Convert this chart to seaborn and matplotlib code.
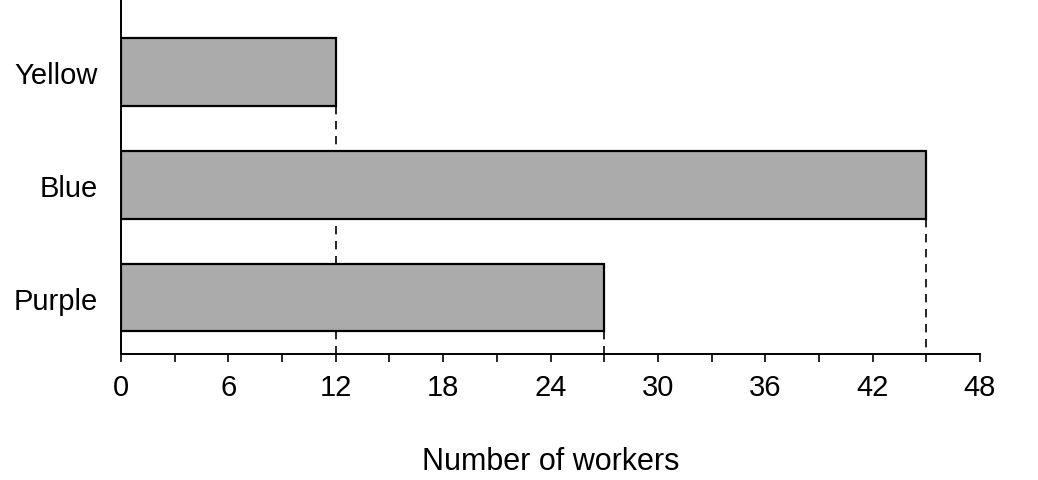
import matplotlib
matplotlib.use('Agg')
import matplotlib.pyplot as plt
import seaborn as sns
import pandas as pd

# data
colours = ['Yellow', 'Blue', 'Purple']
workers = [12, 45, 27]
x_ticks = list(range(0, 49, 3))
x_labels = [str(t) if t % 6 == 0 else '' for t in x_ticks]

df = pd.DataFrame({'colour': colours, 'workers': workers})

sns.set_style('white')
plt.rcParams['font.family'] = ['Liberation Sans', 'DejaVu Sans']
plt.rcParams['text.color'] = 'black'
plt.rcParams['xtick.color'] = 'black'
plt.rcParams['ytick.color'] = 'black'
plt.rcParams['axes.labelcolor'] = 'black'

fig = plt.figure(figsize=(10.38, 4.81), dpi=100)
ax = fig.add_axes([0.1166, 0.262, 0.8275, 0.738])

sns.barplot(data=df, x='workers', y='colour', orient='h', ax=ax,
            color='#ababab', edgecolor='black', linewidth=1.6,
            width=0.6, saturation=1)

# dashed drop lines from each bar end to the axis
for i, v in enumerate(workers):
    ax.vlines(v, i + 0.3, 2.5, colors='black', linestyles=(0, (5, 4)),
              linewidth=1.2, zorder=0)

ax.set_xlim(0, 48)
ax.set_ylim(2.5, -0.65)
ax.set_xticks(x_ticks)
ax.set_xticklabels(x_labels, fontsize=21)
ax.tick_params(axis='x', direction='out', length=6, width=1.2,
               color='black', pad=8, bottom=True)
ax.tick_params(axis='y', length=0, pad=17, labelsize=21)

for side in ['top', 'right']:
    ax.spines[side].set_visible(False)
for side in ['left', 'bottom']:
    ax.spines[side].set_color('black')
    ax.spines[side].set_linewidth(1.4)

ax.set_xlabel('Number of workers', fontsize=22, labelpad=32)
ax.set_ylabel('')

plt.savefig('out.png', dpi=100)
